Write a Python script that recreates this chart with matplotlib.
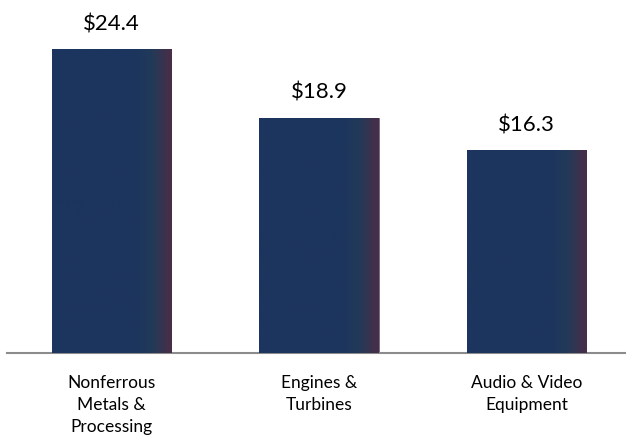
import numpy as np
import matplotlib.pyplot as plt
from matplotlib.colors import LinearSegmentedColormap

categories = ['Nonferrous\nMetals &\nProcessing', 'Engines &\nTurbines', 'Audio & Video\nEquipment']
values = [24.4, 18.9, 16.3]
labels = ['$24.4', '$18.9', '$16.3']

plt.rcParams['font.family'] = ['Lato', 'DejaVu Sans']

fig = plt.figure(figsize=(6.26, 4.48), dpi=100)
ax = fig.add_axes([7 / 626, 95 / 448, 619 / 626, 353 / 448])

x = np.arange(len(values))
width = 0.574
bars = ax.bar(x, values, width=width, color='#1c355e', edgecolor='#6b6b7a', linewidth=0.6, zorder=2)

# shading toward the right edge of each bar
cmap = LinearSegmentedColormap.from_list('shade', [
    (0.0, '#1c355e'), (0.7, '#1c355e'), (0.84, '#223a58'), (1.0, '#4b2d48')])
grad = np.linspace(0, 1, 256).reshape(1, -1)
for b in bars:
    im = ax.imshow(grad, cmap=cmap, aspect='auto', zorder=3,
                   extent=[b.get_x(), b.get_x() + b.get_width(), 0, b.get_height()])
    im.set_clip_path(b)

for xi, v, lab in zip(x, values, labels):
    ax.text(xi, v + 1.2, lab, ha='center', va='bottom', fontsize=16, color='black')

ax.set_xlim(-0.5036, 2.4795)
ax.set_ylim(0, 353 / 12.45)
ax.set_xticks(x)
ax.set_xticklabels(categories, fontsize=12.5, linespacing=1.45)
ax.tick_params(axis='x', length=0, pad=16)
ax.set_yticks([])
for s in ['top', 'right', 'left']:
    ax.spines[s].set_visible(False)
ax.spines['bottom'].set_color('#8c8c8c')
ax.spines['bottom'].set_linewidth(1.5)
ax.patch.set_alpha(0)

fig.savefig('out.png', dpi=100)
